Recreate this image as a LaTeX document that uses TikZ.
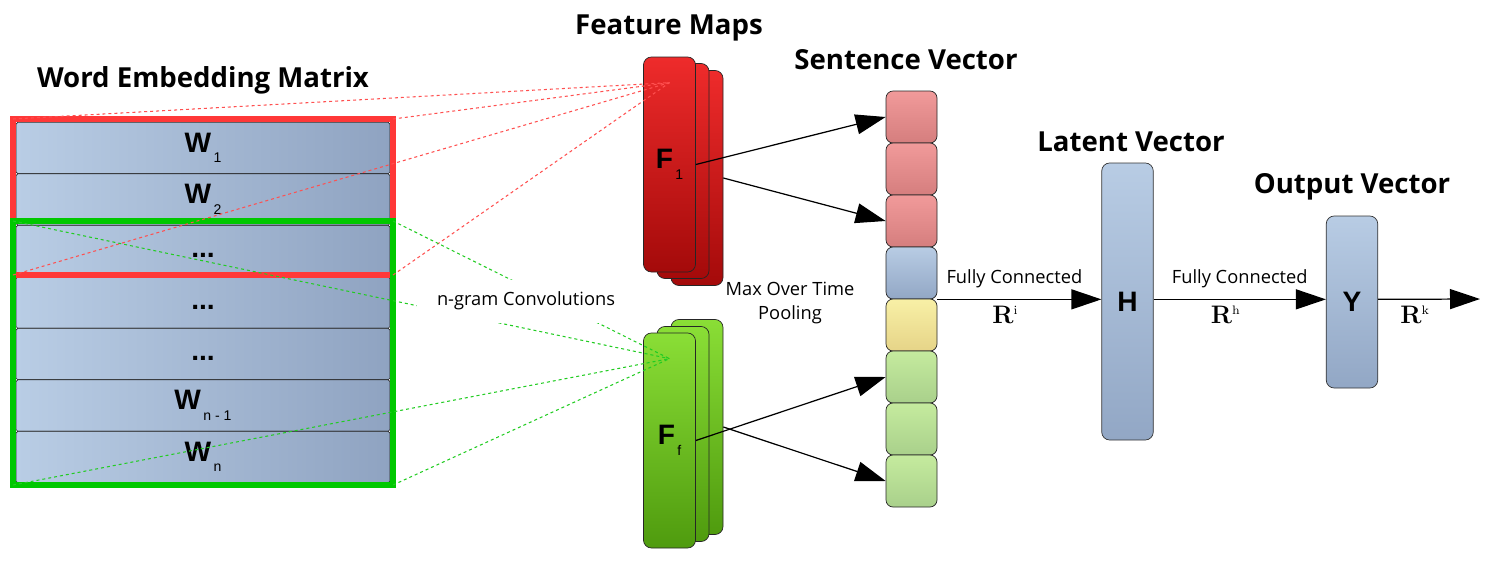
\documentclass[tikz,border=0pt]{standalone}
\usepackage[no-math]{fontspec}
\setmainfont{Open Sans}
\newfontfamily\letterfont{Liberation Sans}
\usetikzlibrary{arrows.meta}

\definecolor{rowlight}{HTML}{B9CDE5}
\definecolor{rowdark}{HTML}{8FA3C1}
\definecolor{redtop}{HTML}{F19A9A}
\definecolor{redbot}{HTML}{D57E7E}
\definecolor{bluetop}{HTML}{B8CCE4}
\definecolor{bluebot}{HTML}{92A7C5}
\definecolor{yellowtop}{HTML}{F8F0A6}
\definecolor{yellowbot}{HTML}{E6D488}
\definecolor{greentop}{HTML}{C5EB9E}
\definecolor{greenbot}{HTML}{A9D08B}
\definecolor{rmaptop}{HTML}{EE2B2B}
\definecolor{rmapbot}{HTML}{A40A0A}
\definecolor{gmaptop}{HTML}{8ADE36}
\definecolor{gmapbot}{HTML}{4F9B0E}
\definecolor{framered}{HTML}{FF3838}
\definecolor{framegreen}{HTML}{00C800}
\definecolor{dashred}{HTML}{FF5050}
\definecolor{dashgreen}{HTML}{22CC22}

\newcommand\wsub[1]{\raisebox{-6pt}{\mdseries\fontsize{8}{9}\selectfont\,#1}}
\newcommand\rspace[1]{$\mathbf{R}^{\scriptscriptstyle\mathrm{#1}}$}

\begin{document}
\begin{tikzpicture}[auto, node distance=1.04cm,
    heading/.style={font=\bfseries\fontsize{15.7}{19}\selectfont},
    note/.style={font=\fontsize{10.4}{12.5}\selectfont, align=center},
    letters/.style={font=\letterfont\bfseries\fontsize{16}{19}\selectfont},
    row/.style={letters, draw=black!85, rounded corners=1pt, left color=rowlight, right color=rowdark,
                minimum width=7.48cm, minimum height=1.03cm, inner sep=0pt, node distance=1.03cm},
    cell/.style={draw=black!85, rounded corners=4pt, minimum width=1.02cm, minimum height=1.04cm, inner sep=0pt},
    redcell/.style={cell, top color=redtop, bottom color=redbot},
    bluecell/.style={cell, top color=bluetop, bottom color=bluebot},
    yellowcell/.style={cell, top color=yellowtop, bottom color=yellowbot},
    greencell/.style={cell, top color=greentop, bottom color=greenbot},
    wframe/.style={draw, line width=3.4pt, minimum width=7.6cm, outer sep=0pt, inner sep=0pt},
    fmap/.style={letters, draw=black!85, rounded corners=4.5pt, minimum width=1.04cm, minimum height=4.3cm, inner sep=0pt},
    redmap/.style={fmap, top color=rmaptop, bottom color=rmapbot},
    greenmap/.style={fmap, top color=gmaptop, bottom color=gmapbot},
    vec/.style={letters, draw=black!80, rounded corners=4.5pt, top color=bluetop, bottom color=bluebot,
                minimum width=1.03cm, inner sep=0pt},
    pointer/.style={-{Triangle[length=0.6cm,width=0.4cm]}, line width=0.7pt},
    reddash/.style={draw=dashred, dash pattern=on 1.7pt off 1.7pt, line width=0.6pt},
    greendash/.style={draw=dashgreen, dash pattern=on 1.7pt off 1.7pt, line width=0.6pt}]

  \useasboundingbox (0,0) rectangle (29.92,-11.34);

  \node[heading] (tmatrix) at (4.06,-1.6) {Word Embedding Matrix};
  \node[heading] (tmaps) at (13.38,-0.56) {Feature Maps};
  \node[heading] (tsent) at (18.12,-1.2) {Sentence Vector};
  \node[heading] (tlatent) at (22.62,-2.84) {Latent Vector};
  \node[heading] (toutput) at (27.04,-3.74) {Output Vector};

  \node[row] (w1) at (4.06,-2.96) {W\wsub{1}};
  \node[row] (w2) [below of=w1] {W\wsub{2}};
  \node[row] (w3) [below of=w2] {\strut...};
  \node[row] (w4) [below of=w3] {\strut...};
  \node[row] (w5) [below of=w4] {\strut...};
  \node[row] (w6) [below of=w5] {W\wsub{n - 1}};
  \node[row] (w7) [below of=w6] {W\wsub{n}};

  \node[wframe, draw=framered, minimum height=3.12cm] (rf) at (4.06,-3.94) {};
  \node[wframe, draw=framegreen, minimum height=5.28cm] (gf) at (4.06,-7.06) {};

  \node[redmap] (f1c) at (13.94,-3.56) {};
  \node[redmap] (f1b) at (13.66,-3.42) {};
  \node[redmap] (f1) at (13.39,-3.29) {F\wsub{1}};
  \node[greenmap] (ffc) at (13.94,-8.54) {};
  \node[greenmap] (ffb) at (13.66,-8.68) {};
  \node[greenmap] (ff) at (13.39,-8.81) {F\wsub{f}};
  \coordinate (f1in) at ([yshift=-0.52cm]f1.north);
  \coordinate (ffin) at ([yshift=-0.52cm]ff.north);

  \node[redcell] (s1) at (18.23,-2.34) {};
  \node[redcell] (s2) [below of=s1] {};
  \node[redcell] (s3) [below of=s2] {};
  \node[bluecell] (s4) [below of=s3] {};
  \node[yellowcell] (s5) [below of=s4] {};
  \node[greencell] (s6) [below of=s5] {};
  \node[greencell] (s7) [below of=s6] {};
  \node[greencell] (s8) [below of=s7] {};

  \node[vec, minimum height=5.54cm] (h) at (22.55,-6.03) {H};
  \node[vec, minimum height=3.44cm] (y) at (27.04,-6.04) {Y};
  \coordinate (rout) at (29.6,-5.98);

  \node[note] (pool) at (15.8,-6.06) {Max Over Time\\[1pt]Pooling};

  \path[reddash]
    (rf.north west) edge (f1in)
    (rf.north east) edge (f1in)
    (rf.south west) edge (f1in)
    (rf.south east) edge (f1in);

  \path[greendash]
    (gf.north west) edge (ffin)
    (gf.north east) edge (ffin)
    (gf.south west) edge (ffin)
    (gf.south east) edge (ffin);

  \node[note, fill=white, inner xsep=0.4cm, minimum height=0.86cm] (ngram) at (10.52,-6.02) {n-gram Convolutions};

  \path[pointer]
    (f1.east) edge (s1.west)
    (f1c.east) edge (s3.west)
    (ff.east) edge (s6.west)
    (ffc.east) edge (s8.west);

  \path[pointer, every node/.style={note}]
    (s4.south east) edge node[above, xshift=-0.1cm, yshift=0.1cm] {Fully Connected}
                         node[below, xshift=-0.28cm, font=\fontsize{14.5}{16}\selectfont] {\rspace{i}} (h.west |- s4.south east)
    (h.east |- s4.south east) edge node[above, yshift=0.1cm] {Fully Connected}
                         node[below, xshift=-0.28cm, font=\fontsize{14.5}{16}\selectfont] {\rspace{h}} (y.west |- s4.south east)
    (y.east |- s4.south east) edge node[below, xshift=-0.28cm, font=\fontsize{14.5}{16}\selectfont] {\rspace{k}} (rout);

\end{tikzpicture}
\end{document}
